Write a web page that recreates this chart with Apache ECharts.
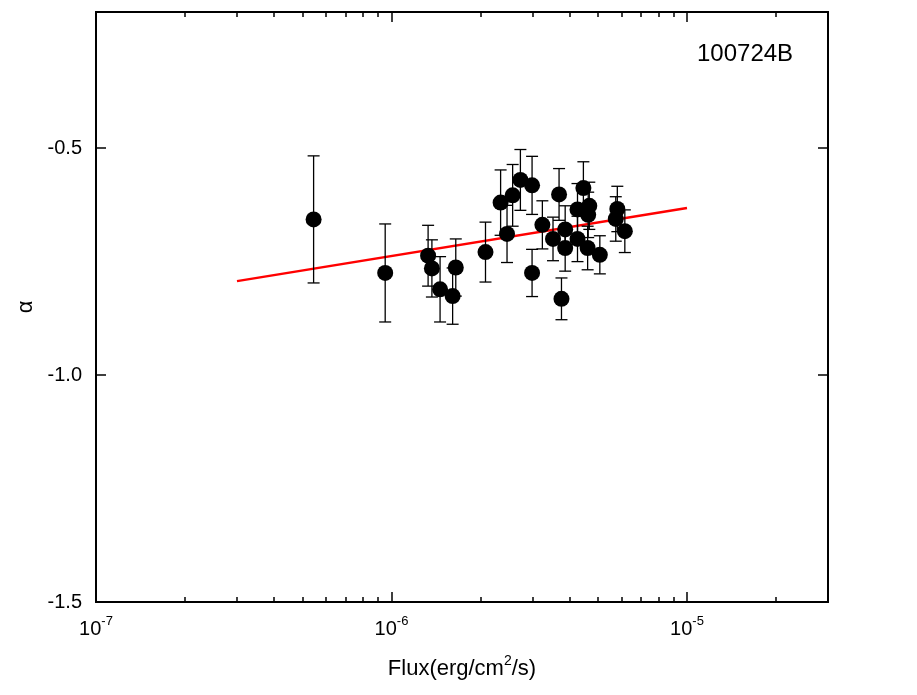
<!DOCTYPE html>
<html>
<head>
<meta charset="utf-8">
<script src="https://cdn.jsdelivr.net/npm/echarts@6/dist/echarts.min.js"></script>
<style>
html, body { margin: 0; padding: 0; background: #fff; }
#chart { width: 917px; height: 695px; }
</style>
</head>
<body>
<div id="chart"></div>
<script>
// flux (erg/cm2/s), alpha and symmetric error
var flux = [5.45e-7, 9.52e-7, 1.33e-6, 1.37e-6, 1.46e-6, 1.61e-6, 1.65e-6,
    2.08e-6, 2.34e-6, 2.46e-6, 2.57e-6, 2.73e-6, 2.99e-6, 2.99e-6, 3.24e-6,
    3.52e-6, 3.69e-6, 3.76e-6, 3.87e-6, 3.87e-6, 4.26e-6, 4.26e-6, 4.46e-6,
    4.67e-6, 4.63e-6, 4.61e-6, 5.07e-6, 5.81e-6, 5.74e-6, 6.16e-6];
var alpha = [-0.657, -0.775, -0.737, -0.765, -0.811, -0.826, -0.763,
    -0.729, -0.620, -0.689, -0.604, -0.570, -0.582, -0.775, -0.669,
    -0.700, -0.602, -0.832, -0.679, -0.720, -0.635, -0.700, -0.588,
    -0.627, -0.647, -0.720, -0.735, -0.634, -0.656, -0.683];
var alphaErr = [0.140, 0.108, 0.067, 0.063, 0.072, 0.062, 0.063,
    0.066, 0.072, 0.063, 0.068, 0.067, 0.064, 0.052, 0.053,
    0.048, 0.057, 0.046, 0.052, 0.051, 0.057, 0.050, 0.058,
    0.052, 0.050, 0.048, 0.042, 0.050, 0.049, 0.047];
// fitted line
var fitX = [3e-7, 1e-5];
var fitY = [-0.793, -0.632];
// axis ticks
var xMajor = [1e-7, 1e-6, 1e-5];
var xMinor = [2e-7, 3e-7, 4e-7, 5e-7, 6e-7, 7e-7, 8e-7, 9e-7,
    2e-6, 3e-6, 4e-6, 5e-6, 6e-6, 7e-6, 8e-6, 9e-6, 2e-5];
var yMajor = [-1.5, -1.0, -0.5];
var grbName = '100724B';

var chart = echarts.init(document.getElementById('chart'));

var FONT = '"Liberation Sans", Arial, sans-serif';
var points = flux.map(function (f, i) { return [f, alpha[i]]; });
var errData = flux.map(function (f, i) { return [f, alpha[i] - alphaErr[i], alpha[i] + alphaErr[i]]; });
var fitData = fitX.map(function (f, i) { return [f, fitY[i]]; });

function logX(pos, ticks, len, labels) {
    return {
        type: 'log', logBase: 10, min: 1e-7, max: 3e-5, position: pos,
        gridIndex: 0,
        axisLine: { show: true, onZero: false, lineStyle: { color: '#000', width: 2 } },
        axisTick: { show: true, inside: true, length: len, customValues: ticks,
            lineStyle: { color: '#000', width: 1.5 } },
        axisLabel: labels ? {
            show: true, customValues: xMajor, margin: 13,
            formatter: function (v) {
                var e = Math.round(Math.log10(v));
                return '{b|10}{e|' + e + '}';
            },
            rich: {
                b: { fontFamily: FONT, fontSize: 20, color: '#000', lineHeight: 24, verticalAlign: 'bottom' },
                e: { fontFamily: FONT, fontSize: 13, color: '#000', lineHeight: 24, verticalAlign: 'top' }
            }
        } : { show: false },
        splitLine: { show: false }
    };
}

var option = {
    backgroundColor: '#fff',
    animation: false,
    title: {
        text: grbName, left: 692, top: 37,
        textStyle: { fontFamily: FONT, fontSize: 24, fontWeight: 'normal', color: '#000' }
    },
    grid: { left: 96, right: 89, top: 12, bottom: 93, containLabel: false },
    xAxis: [
        Object.assign(logX('bottom', xMajor, 10, true), {
            name: '{a|Flux(erg/cm}{s|2}{a|/s)}',
            nameLocation: 'middle', nameGap: 52,
            nameTextStyle: {
                rich: {
                    a: { fontFamily: FONT, fontSize: 22, color: '#000', lineHeight: 26, verticalAlign: 'bottom' },
                    s: { fontFamily: FONT, fontSize: 14, color: '#000', lineHeight: 26, verticalAlign: 'top' }
                }
            }
        }),
        logX('bottom', xMinor, 5, false),
        logX('top', xMajor, 10, false),
        logX('top', xMinor, 5, false)
    ],
    yAxis: [
        {
            type: 'value', min: -1.5, max: -0.2, position: 'left',
            name: 'α', nameLocation: 'middle', nameGap: 58,
            nameTextStyle: { fontFamily: FONT, fontSize: 22, color: '#000' },
            axisLine: { show: true, onZero: false, lineStyle: { color: '#000', width: 2 } },
            axisTick: { show: true, inside: true, length: 10, customValues: yMajor,
                lineStyle: { color: '#000', width: 1.5 } },
            axisLabel: { show: true, customValues: yMajor, margin: 14,
                fontFamily: FONT, fontSize: 20, color: '#000',
                formatter: function (v) { return v.toFixed(1); } },
            splitLine: { show: false }
        },
        {
            type: 'value', min: -1.5, max: -0.2, position: 'right',
            axisLine: { show: true, onZero: false, lineStyle: { color: '#000', width: 2 } },
            axisTick: { show: true, inside: true, length: 10, customValues: yMajor,
                lineStyle: { color: '#000', width: 1.5 } },
            axisLabel: { show: false },
            splitLine: { show: false }
        }
    ],
    series: [
        {
            type: 'line', xAxisIndex: 0, yAxisIndex: 0, data: fitData,
            showSymbol: false, symbol: 'none',
            lineStyle: { color: '#ff0000', width: 2.5 }, z: 2
        },
        {
            type: 'custom', xAxisIndex: 0, yAxisIndex: 0, data: errData, z: 3,
            renderItem: function (params, api) {
                var x = api.value(0);
                var lo = api.coord([x, api.value(1)]);
                var hi = api.coord([x, api.value(2)]);
                var w = 6;
                var style = { stroke: '#000', lineWidth: 1.3 };
                return {
                    type: 'group',
                    children: [
                        { type: 'line', shape: { x1: lo[0], y1: lo[1], x2: hi[0], y2: hi[1] }, style: style },
                        { type: 'line', shape: { x1: lo[0] - w, y1: lo[1], x2: lo[0] + w, y2: lo[1] }, style: style },
                        { type: 'line', shape: { x1: hi[0] - w, y1: hi[1], x2: hi[0] + w, y2: hi[1] }, style: style }
                    ]
                };
            }
        },
        {
            type: 'scatter', xAxisIndex: 0, yAxisIndex: 0, data: points,
            symbol: 'circle', symbolSize: 16,
            itemStyle: { color: '#000', opacity: 1 }, z: 4
        }
    ]
};

chart.setOption(option);
</script>
</body>
</html>
